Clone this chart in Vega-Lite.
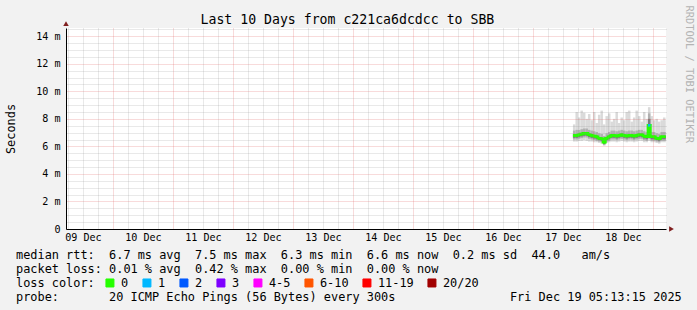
{
  "$schema": "https://vega.github.io/schema/vega-lite/v6.json",
  "width": 600,
  "height": 201,
  "autosize": {"type": "none"},
  "padding": {"left": 66, "top": 28, "right": 31, "bottom": 81},
  "background": "#f2f2f2",
  "config": {
    "view": {"fill": "white", "stroke": null},
    "axis": {"labelFont": "DejaVu Sans Mono", "titleFont": "DejaVu Sans Mono", "titleFontWeight": "normal", "titleColor": "black", "labelColor": "black"}
  },
  "data": {"values": [
    {"t":"2025-12-17T16:00:00Z","t2":"2025-12-17T17:00:00Z","lo":6.35,"a1":6.5,"b1":6.62,"med":6.8,"b2":6.88,"a2":7.15,"hi":7.6,"loss":"0"},
    {"t":"2025-12-17T17:00:00Z","t2":"2025-12-17T18:00:00Z","lo":6.35,"a1":6.5,"b1":6.62,"med":6.8,"b2":6.88,"a2":7.2,"hi":8.5,"loss":"0"},
    {"t":"2025-12-17T18:00:00Z","t2":"2025-12-17T19:00:00Z","lo":6.4,"a1":6.55,"b1":6.67,"med":6.85,"b2":6.93,"a2":7.2,"hi":8.1,"loss":"0"},
    {"t":"2025-12-17T19:00:00Z","t2":"2025-12-17T20:00:00Z","lo":6.4,"a1":6.6,"b1":6.72,"med":6.9,"b2":6.98,"a2":7.25,"hi":8.6,"loss":"0"},
    {"t":"2025-12-17T20:00:00Z","t2":"2025-12-17T21:00:00Z","lo":6.45,"a1":6.65,"b1":6.77,"med":6.95,"b2":7.03,"a2":7.3,"hi":8.45,"loss":"0"},
    {"t":"2025-12-17T21:00:00Z","t2":"2025-12-17T22:00:00Z","lo":6.4,"a1":6.65,"b1":6.77,"med":6.95,"b2":7.03,"a2":7.3,"hi":8.0,"loss":"0"},
    {"t":"2025-12-17T22:00:00Z","t2":"2025-12-17T23:00:00Z","lo":6.35,"a1":6.55,"b1":6.67,"med":6.85,"b2":6.93,"a2":7.2,"hi":8.35,"loss":"0"},
    {"t":"2025-12-17T23:00:00Z","t2":"2025-12-18T00:00:00Z","lo":6.35,"a1":6.5,"b1":6.62,"med":6.8,"b2":6.88,"a2":7.15,"hi":7.9,"loss":"0"},
    {"t":"2025-12-18T00:00:00Z","t2":"2025-12-18T01:00:00Z","lo":6.3,"a1":6.45,"b1":6.57,"med":6.75,"b2":6.83,"a2":7.1,"hi":8.5,"loss":"0"},
    {"t":"2025-12-18T01:00:00Z","t2":"2025-12-18T02:00:00Z","lo":6.3,"a1":6.4,"b1":6.52,"med":6.7,"b2":6.78,"a2":7.05,"hi":7.7,"loss":"0"},
    {"t":"2025-12-18T02:00:00Z","t2":"2025-12-18T03:00:00Z","lo":6.25,"a1":6.35,"b1":6.45,"med":6.6,"b2":6.68,"a2":6.95,"hi":8.3,"loss":"0"},
    {"t":"2025-12-18T03:00:00Z","t2":"2025-12-18T04:00:00Z","lo":6.2,"a1":6.3,"b1":6.4,"med":6.55,"b2":6.63,"a2":6.9,"hi":8.6,"loss":"0"},
    {"t":"2025-12-18T04:00:00Z","t2":"2025-12-18T05:00:00Z","lo":6.05,"a1":6.1,"b1":6.18,"med":6.3,"b2":6.4,"a2":6.75,"hi":7.6,"loss":"0"},
    {"t":"2025-12-18T05:00:00Z","t2":"2025-12-18T06:00:00Z","lo":6.25,"a1":6.35,"b1":6.45,"med":6.6,"b2":6.68,"a2":6.95,"hi":8.2,"loss":"0"},
    {"t":"2025-12-18T06:00:00Z","t2":"2025-12-18T07:00:00Z","lo":6.3,"a1":6.4,"b1":6.52,"med":6.7,"b2":6.78,"a2":7.05,"hi":8.4,"loss":"0"},
    {"t":"2025-12-18T07:00:00Z","t2":"2025-12-18T08:00:00Z","lo":6.35,"a1":6.5,"b1":6.62,"med":6.8,"b2":6.88,"a2":7.15,"hi":7.8,"loss":"0"},
    {"t":"2025-12-18T08:00:00Z","t2":"2025-12-18T09:00:00Z","lo":6.35,"a1":6.5,"b1":6.62,"med":6.8,"b2":6.88,"a2":7.15,"hi":8.0,"loss":"0"},
    {"t":"2025-12-18T09:00:00Z","t2":"2025-12-18T10:00:00Z","lo":6.3,"a1":6.45,"b1":6.57,"med":6.75,"b2":6.83,"a2":7.1,"hi":8.5,"loss":"0"},
    {"t":"2025-12-18T10:00:00Z","t2":"2025-12-18T11:00:00Z","lo":6.35,"a1":6.5,"b1":6.62,"med":6.8,"b2":6.88,"a2":7.15,"hi":7.7,"loss":"0"},
    {"t":"2025-12-18T11:00:00Z","t2":"2025-12-18T12:00:00Z","lo":6.4,"a1":6.55,"b1":6.67,"med":6.85,"b2":6.93,"a2":7.2,"hi":8.1,"loss":"0"},
    {"t":"2025-12-18T12:00:00Z","t2":"2025-12-18T13:00:00Z","lo":6.35,"a1":6.5,"b1":6.62,"med":6.8,"b2":6.88,"a2":7.15,"hi":7.9,"loss":"0"},
    {"t":"2025-12-18T13:00:00Z","t2":"2025-12-18T14:00:00Z","lo":6.3,"a1":6.45,"b1":6.57,"med":6.75,"b2":6.83,"a2":7.1,"hi":8.5,"loss":"0"},
    {"t":"2025-12-18T14:00:00Z","t2":"2025-12-18T15:00:00Z","lo":6.35,"a1":6.5,"b1":6.62,"med":6.8,"b2":6.88,"a2":7.15,"hi":8.6,"loss":"0"},
    {"t":"2025-12-18T15:00:00Z","t2":"2025-12-18T16:00:00Z","lo":6.35,"a1":6.5,"b1":6.62,"med":6.8,"b2":6.88,"a2":7.15,"hi":7.8,"loss":"0"},
    {"t":"2025-12-18T16:00:00Z","t2":"2025-12-18T17:00:00Z","lo":6.3,"a1":6.45,"b1":6.57,"med":6.75,"b2":6.83,"a2":7.1,"hi":8.1,"loss":"0"},
    {"t":"2025-12-18T17:00:00Z","t2":"2025-12-18T18:00:00Z","lo":6.35,"a1":6.5,"b1":6.62,"med":6.8,"b2":6.88,"a2":7.15,"hi":8.6,"loss":"0"},
    {"t":"2025-12-18T18:00:00Z","t2":"2025-12-18T19:00:00Z","lo":6.4,"a1":6.55,"b1":6.67,"med":6.85,"b2":6.93,"a2":7.2,"hi":8.2,"loss":"0"},
    {"t":"2025-12-18T19:00:00Z","t2":"2025-12-18T20:00:00Z","lo":6.4,"a1":6.55,"b1":6.67,"med":6.85,"b2":6.93,"a2":7.2,"hi":7.8,"loss":"0"},
    {"t":"2025-12-18T20:00:00Z","t2":"2025-12-18T21:00:00Z","lo":6.3,"a1":6.45,"b1":6.57,"med":6.75,"b2":6.83,"a2":7.1,"hi":8.5,"loss":"0"},
    {"t":"2025-12-18T21:00:00Z","t2":"2025-12-18T22:00:00Z","lo":6.3,"a1":6.4,"b1":6.52,"med":6.7,"b2":6.78,"a2":7.05,"hi":8.0,"loss":"0"},
    {"t":"2025-12-18T22:00:00Z","t2":"2025-12-18T23:00:00Z","lo":6.4,"a1":6.55,"b1":6.7,"med":7.53,"b2":8.0,"a2":8.4,"hi":8.85,"loss":"1"},
    {"t":"2025-12-18T23:00:00Z","t2":"2025-12-19T00:00:00Z","lo":6.3,"a1":6.4,"b1":6.52,"med":6.7,"b2":6.78,"a2":7.05,"hi":8.2,"loss":"0"},
    {"t":"2025-12-19T00:00:00Z","t2":"2025-12-19T01:00:00Z","lo":6.3,"a1":6.4,"b1":6.52,"med":6.7,"b2":6.78,"a2":7.05,"hi":7.9,"loss":"0"},
    {"t":"2025-12-19T01:00:00Z","t2":"2025-12-19T02:00:00Z","lo":6.25,"a1":6.35,"b1":6.45,"med":6.6,"b2":6.68,"a2":6.95,"hi":8.0,"loss":"0"},
    {"t":"2025-12-19T02:00:00Z","t2":"2025-12-19T03:00:00Z","lo":6.2,"a1":6.3,"b1":6.4,"med":6.55,"b2":6.63,"a2":6.9,"hi":7.8,"loss":"0"},
    {"t":"2025-12-19T03:00:00Z","t2":"2025-12-19T04:00:00Z","lo":6.3,"a1":6.4,"b1":6.52,"med":6.7,"b2":6.78,"a2":7.05,"hi":7.9,"loss":"0"},
    {"t":"2025-12-19T04:00:00Z","t2":"2025-12-19T05:00:00Z","lo":6.3,"a1":6.4,"b1":6.52,"med":6.7,"b2":6.78,"a2":7.05,"hi":8.1,"loss":"0"},
    {"t":"2025-12-19T05:00:00Z","t2":"2025-12-19T06:00:00Z","lo":6.3,"a1":6.4,"b1":6.52,"med":6.7,"b2":6.78,"a2":7.05,"hi":7.9,"loss":"0"}
  ]},
  "layer": [
    {
      "mark": {"type": "rect", "color": "#dadada", "clip": true},
      "encoding": {
        "x": {"field": "t", "type": "temporal",
          "scale": {"type": "utc", "domain": [{"year":2025,"month":12,"date":9,"hours":5,"minutes":13,"seconds":15,"utc":true},{"year":2025,"month":12,"date":19,"hours":5,"minutes":13,"seconds":15,"utc":true}]},
          "axis": {"orient": "bottom", "zindex": 2,
            "values": [
              {"year":2025,"month":12,"date":9,"hours":12,"utc":true},{"year":2025,"month":12,"date":10,"hours":12,"utc":true},
              {"year":2025,"month":12,"date":11,"hours":12,"utc":true},{"year":2025,"month":12,"date":12,"hours":12,"utc":true},
              {"year":2025,"month":12,"date":13,"hours":12,"utc":true},{"year":2025,"month":12,"date":14,"hours":12,"utc":true},
              {"year":2025,"month":12,"date":15,"hours":12,"utc":true},{"year":2025,"month":12,"date":16,"hours":12,"utc":true},
              {"year":2025,"month":12,"date":17,"hours":12,"utc":true},{"year":2025,"month":12,"date":18,"hours":12,"utc":true}],
            "format": "%d %b", "labelFontSize": 10.1, "labelBaseline": "alphabetic", "labelPadding": 11, "labelAlign": "center",
            "labelFlush": false, "labelOverlap": false, "ticks": false, "tickSize": 0, "grid": false,
            "domain": true, "domainColor": "black", "domainWidth": 1,
            "title": ["median rtt:\u00a0\u00a06.7 ms avg\u00a0\u00a07.5 ms max\u00a0\u00a06.3 ms min\u00a0\u00a06.6 ms now\u00a0\u00a00.2 ms sd\u00a0\u00a044.0\u00a0\u00a0\u00a0am/s",
                      "packet loss: 0.01 % avg\u00a0\u00a00.42 % max\u00a0\u00a00.00 % min\u00a0\u00a00.00 % now"],
            "titleFontSize": 11.9, "titleAlign": "left", "titleAnchor": "start", "titleBaseline": "alphabetic",
            "titleX": -50.5, "titleY": 29, "titleLineHeight": 14}},
        "x2": {"field": "t2"},
        "y": {"field": "lo", "type": "quantitative",
          "scale": {"domain": [0, 14.6], "nice": false, "zero": true},
          "axis": {"orient": "left", "zindex": 1, "values": [0,2,4,6,8,10,12,14],
            "labelExpr": "datum.value == 0 ? '0' : datum.value + ' m'",
            "labelFontSize": 10.1, "labelPadding": 6, "labelBaseline": "middle", "labelFlush": false, "labelOverlap": false,
            "ticks": false, "tickSize": 0,
            "grid": true, "gridColor": "#e06060", "gridOpacity": 0.45, "gridDash": [1,1], "gridWidth": 1,
            "domain": true, "domainColor": "black", "domainWidth": 1,
            "title": "Seconds", "titleFontSize": 11.9, "titleAngle": -90, "titleX": -56, "titleY": 100.5,
            "titleAlign": "center", "titleBaseline": "middle"}},
        "y2": {"field": "hi"}
      }
    },
    {
      "mark": {"type": "rect", "color": "#b0b0b0", "clip": true},
      "encoding": {
        "x": {"field": "t", "type": "temporal",
          "axis": {"orient": "bottom", "zindex": 1,
            "values": [
              {"year":2025,"month":12,"date":10,"utc":true},{"year":2025,"month":12,"date":11,"utc":true},
              {"year":2025,"month":12,"date":12,"utc":true},{"year":2025,"month":12,"date":13,"utc":true},
              {"year":2025,"month":12,"date":14,"utc":true},{"year":2025,"month":12,"date":15,"utc":true},
              {"year":2025,"month":12,"date":16,"utc":true},{"year":2025,"month":12,"date":17,"utc":true},
              {"year":2025,"month":12,"date":18,"utc":true},{"year":2025,"month":12,"date":19,"utc":true}],
            "labels": false, "ticks": false, "tickSize": 0, "domain": false,
            "grid": true, "gridColor": "#e06060", "gridOpacity": 0.45, "gridDash": [1,1], "gridWidth": 1,
            "title": "probe:\u00a0\u00a0\u00a0\u00a0\u00a0\u00a0\u00a020 ICMP Echo Pings (56 Bytes) every 300s\u00a0\u00a0\u00a0\u00a0\u00a0\u00a0\u00a0\u00a0\u00a0\u00a0\u00a0\u00a0\u00a0\u00a0\u00a0\u00a0Fri Dec 19 05:13:15 2025",
            "titleFontSize": 11.9, "titleAlign": "left", "titleAnchor": "start", "titleBaseline": "alphabetic",
            "titleX": -50.5, "titleY": 71}},
        "x2": {"field": "t2"},
        "y": {"field": "a1", "type": "quantitative",
          "axis": {"orient": "right", "zindex": 1,
            "values": [0.5,1,1.5,2.5,3,3.5,4.5,5,5.5,6.5,7,7.5,8.5,9,9.5,10.5,11,11.5,12.5,13,13.5,14.5],
            "labels": false, "ticks": false, "tickSize": 0, "domain": false,
            "grid": true, "gridColor": "#909090", "gridOpacity": 0.4, "gridDash": [1,1], "gridWidth": 1,
            "title": "RRDTOOL / TOBI OETIKER", "titleFontSize": 10.4, "titleColor": "#b4b4b4", "titleAngle": 90,
            "titleX": 22.5, "titleY": -23, "titleAlign": "left", "titleBaseline": "middle"}},
        "y2": {"field": "a2"}
      }
    },
    {
      "mark": {"type": "rect", "color": "#7c7c7c", "clip": true},
      "encoding": {
        "x": {"field": "t", "type": "temporal",
          "axis": {"orient": "top", "zindex": 1,
            "values": [
              {"year":2025,"month":12,"date":9,"hours":6,"utc":true},{"year":2025,"month":12,"date":9,"hours":12,"utc":true},{"year":2025,"month":12,"date":9,"hours":18,"utc":true},
              {"year":2025,"month":12,"date":10,"hours":6,"utc":true},{"year":2025,"month":12,"date":10,"hours":12,"utc":true},{"year":2025,"month":12,"date":10,"hours":18,"utc":true},
              {"year":2025,"month":12,"date":11,"hours":6,"utc":true},{"year":2025,"month":12,"date":11,"hours":12,"utc":true},{"year":2025,"month":12,"date":11,"hours":18,"utc":true},
              {"year":2025,"month":12,"date":12,"hours":6,"utc":true},{"year":2025,"month":12,"date":12,"hours":12,"utc":true},{"year":2025,"month":12,"date":12,"hours":18,"utc":true},
              {"year":2025,"month":12,"date":13,"hours":6,"utc":true},{"year":2025,"month":12,"date":13,"hours":12,"utc":true},{"year":2025,"month":12,"date":13,"hours":18,"utc":true},
              {"year":2025,"month":12,"date":14,"hours":6,"utc":true},{"year":2025,"month":12,"date":14,"hours":12,"utc":true},{"year":2025,"month":12,"date":14,"hours":18,"utc":true},
              {"year":2025,"month":12,"date":15,"hours":6,"utc":true},{"year":2025,"month":12,"date":15,"hours":12,"utc":true},{"year":2025,"month":12,"date":15,"hours":18,"utc":true},
              {"year":2025,"month":12,"date":16,"hours":6,"utc":true},{"year":2025,"month":12,"date":16,"hours":12,"utc":true},{"year":2025,"month":12,"date":16,"hours":18,"utc":true},
              {"year":2025,"month":12,"date":17,"hours":6,"utc":true},{"year":2025,"month":12,"date":17,"hours":12,"utc":true},{"year":2025,"month":12,"date":17,"hours":18,"utc":true},
              {"year":2025,"month":12,"date":18,"hours":6,"utc":true},{"year":2025,"month":12,"date":18,"hours":12,"utc":true},{"year":2025,"month":12,"date":18,"hours":18,"utc":true}],
            "labels": false, "ticks": false, "tickSize": 0, "domain": false,
            "grid": true, "gridColor": "#909090", "gridOpacity": 0.4, "gridDash": [1,1], "gridWidth": 1,
            "title": "Last 10 Days from c221ca6dcdcc to SBB", "titleFontSize": 13.2, "titleAlign": "left", "titleAnchor": "start",
            "titleBaseline": "alphabetic", "titleX": 134, "titleY": -5}},
        "x2": {"field": "t2"},
        "y": {"field": "b1", "type": "quantitative", "axis": null},
        "y2": {"field": "b2"}
      }
    },
    {
      "mark": {"type": "line", "color": "#26ff00", "strokeWidth": 2.5, "interpolate": "step-after", "clip": true},
      "encoding": {
        "x": {"field": "t", "type": "temporal", "axis": null},
        "y": {"field": "med", "type": "quantitative", "axis": null}
      }
    },
    {
      "mark": {"type": "rule", "strokeWidth": 2.5, "clip": true},
      "encoding": {
        "x": {"field": "t", "type": "temporal", "axis": null},
        "x2": {"field": "t2"},
        "y": {"field": "med", "type": "quantitative", "axis": null},
        "color": {"field": "loss", "type": "nominal",
          "scale": {"domain": ["0","1","2","3","4-5","6-10","11-19","20/20"],
                    "range": ["#26ff00","#00b8ff","#0059ff","#7e00ff","#ff00ff","#ff5500","#ff0000","#a10000"]},
          "legend": {"orient": "none", "legendX": -50, "legendY": 249, "direction": "horizontal",
            "title": "loss color:", "titleOrient": "left", "titleFont": "DejaVu Sans Mono", "titleFontSize": 11.9,
            "titleFontWeight": "normal", "titleColor": "black", "titlePadding": 9, "titleBaseline": "middle",
            "symbolType": "square", "symbolSize": 64, "symbolStrokeColor": "black", "symbolStrokeWidth": 1, "symbolOpacity": 1,
            "labelFont": "DejaVu Sans Mono", "labelFontSize": 11.9, "labelColor": "black", "labelOffset": 5,
            "columnPadding": 11, "padding": 0,
            "encode": {"symbols": {"update": {"fill": {"scale": "color", "field": "value"}, "stroke": {"value": "black"}, "strokeWidth": {"value": 1}, "opacity": {"value": 1}}}}}}
      }
    },
    {
      "data": {"values": [{"end": "y"}]},
      "mark": {"type": "point", "shape": "triangle-up", "filled": true, "size": 30, "color": "#801f1f", "opacity": 1},
      "encoding": {
        "x": {"datum": {"year":2025,"month":12,"date":9,"hours":5,"minutes":13,"seconds":15,"utc":true}, "type": "temporal", "axis": null},
        "y": {"datum": 14.92, "type": "quantitative", "axis": null}
      }
    },
    {
      "data": {"values": [{"end": "x"}]},
      "mark": {"type": "point", "shape": "triangle-right", "filled": true, "size": 30, "color": "#801f1f", "opacity": 1},
      "encoding": {
        "x": {"datum": {"year":2025,"month":12,"date":19,"hours":7,"minutes":25,"utc":true}, "type": "temporal", "axis": null},
        "y": {"datum": 0, "type": "quantitative", "axis": null}
      }
    }
  ],
  "resolve": {"axis": {"x": "independent", "y": "independent"}}
}
